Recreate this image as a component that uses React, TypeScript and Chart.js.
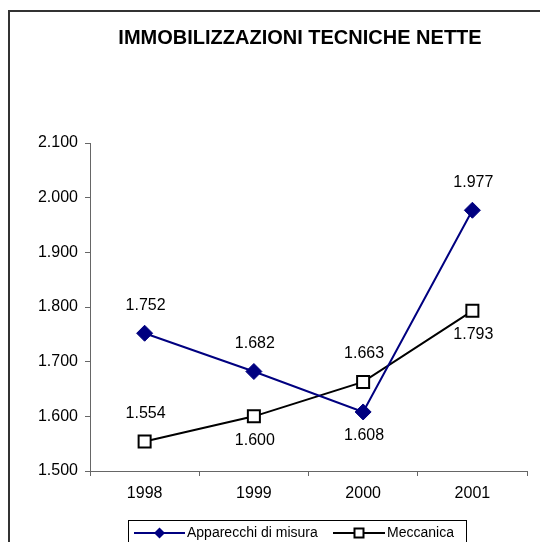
import React, { useEffect, useRef } from "react";
import { Chart, registerables } from "chart.js";

Chart.register(...registerables);

const categories = ["1998", "1999", "2000", "2001"];
const apparecchi = [1752, 1682, 1608, 1977];
const meccanica = [1554, 1600, 1663, 1793];
const seriesNames = ["Apparecchi di misura", "Meccanica"];
const chartTitle = "IMMOBILIZZAZIONI TECNICHE NETTE";
const yMin = 1500;
const yMax = 2100;
const yStep = 100;

const FONT = "'Liberation Sans', Arial, sans-serif";

function fmt(v: number): string {
  const n = Math.round(v);
  const th = Math.floor(n / 1000);
  const rest = String(n % 1000).padStart(3, "0");
  return th > 0 ? th + "." + rest : String(n);
}

const frameAndTitle = {
  id: "frameAndTitle",
  beforeDraw(chart: any) {
    const ctx = chart.ctx;
    ctx.save();
    ctx.fillStyle = "#fff";
    ctx.fillRect(0, 0, chart.width, chart.height);
    ctx.strokeStyle = "#333";
    ctx.lineWidth = 2;
    ctx.strokeRect(9, 11, chart.width + 20, chart.height + 20);
    ctx.fillStyle = "#000";
    ctx.font = "bold 20px " + FONT;
    ctx.textAlign = "center";
    ctx.textBaseline = "middle";
    ctx.fillText(chartTitle, 300, 38);
    ctx.restore();
  },
};

const labelPositions = [
  ["above", "above", "below", "above"],
  ["above", "below", "above", "below"],
];

const dataLabels = {
  id: "dataLabels",
  afterDatasetsDraw(chart: any) {
    const ctx = chart.ctx;
    ctx.save();
    ctx.fillStyle = "#000";
    ctx.font = "16px " + FONT;
    ctx.textAlign = "center";
    ctx.textBaseline = "middle";
    chart.data.datasets.forEach((ds: any, di: number) => {
      const meta = chart.getDatasetMeta(di);
      meta.data.forEach((pt: any, i: number) => {
        const pos = labelPositions[di][i];
        const dy = pos === "above" ? -28 : 24;
        ctx.fillText(fmt(ds.data[i]), pt.x + 1, pt.y + dy);
      });
    });
    ctx.restore();
  },
};

const customLegend = {
  id: "customLegend",
  afterDraw(chart: any) {
    const ctx = chart.ctx;
    ctx.save();
    ctx.strokeStyle = "#000";
    ctx.lineWidth = 1;
    ctx.strokeRect(128.5, 520.5, 338, 30);
    const items = [
      { x0: 134, x1: 185, tx: 187 },
      { x0: 333, x1: 385, tx: 387 },
    ];
    const y = 533;
    chart.data.datasets.forEach((ds: any, di: number) => {
      const it = items[di];
      ctx.strokeStyle = ds.borderColor;
      ctx.lineWidth = 2;
      ctx.beginPath();
      ctx.moveTo(it.x0, y);
      ctx.lineTo(it.x1, y);
      ctx.stroke();
      const cx = (it.x0 + it.x1) / 2;
      ctx.beginPath();
      if (ds.pointStyle === "rectRot") {
        const r = 5.5;
        ctx.moveTo(cx, y - r);
        ctx.lineTo(cx + r, y);
        ctx.lineTo(cx, y + r);
        ctx.lineTo(cx - r, y);
        ctx.closePath();
        ctx.fillStyle = ds.pointBackgroundColor;
        ctx.fill();
      } else {
        const h = 4.5;
        ctx.rect(cx - h, y - h, 2 * h, 2 * h);
        ctx.fillStyle = ds.pointBackgroundColor;
        ctx.fill();
        ctx.strokeStyle = ds.pointBorderColor;
        ctx.lineWidth = 2;
        ctx.stroke();
      }
      ctx.fillStyle = "#000";
      ctx.font = "14px " + FONT;
      ctx.textAlign = "left";
      ctx.textBaseline = "middle";
      ctx.fillText(ds.label, it.tx, y);
    });
    ctx.restore();
  },
};

export default function App() {
  const ref = useRef<HTMLCanvasElement | null>(null);
  useEffect(() => {
    if (!ref.current) return;
    const chart = new Chart(ref.current, {
      type: "line",
      data: {
        labels: categories,
        datasets: [
          {
            label: seriesNames[0],
            data: apparecchi,
            borderColor: "#000080",
            backgroundColor: "#000080",
            borderWidth: 2,
            pointStyle: "rectRot",
            pointRadius: 8,
            pointBackgroundColor: "#000080",
            pointBorderColor: "#000080",
            pointBorderWidth: 1,
            tension: 0,
          },
          {
            label: seriesNames[1],
            data: meccanica,
            borderColor: "#000000",
            backgroundColor: "#ffffff",
            borderWidth: 2,
            pointStyle: "rect",
            pointRadius: 8.5,
            pointBackgroundColor: "#ffffff",
            pointBorderColor: "#000000",
            pointBorderWidth: 2,
            tension: 0,
          },
        ],
      },
      options: {
        responsive: false,
        animation: false,
        devicePixelRatio: 1,
        layout: { padding: { left: 0, top: 143, right: 13, bottom: 31 } },
        plugins: {
          legend: { display: false },
          title: { display: false },
          tooltip: { enabled: false },
        },
        scales: {
          x: {
            type: "category",
            offset: true,
            grid: {
              offset: true,
              drawOnChartArea: false,
              drawTicks: true,
              tickLength: 5,
              color: "#666",
            },
            border: { display: true, color: "#666", width: 1 },
            ticks: {
              color: "#000",
              font: { family: FONT, size: 16 },
              padding: 8,
              maxRotation: 0,
            },
            afterFit(scale: any) {
              scale.height = 40;
            },
          },
          y: {
            min: yMin,
            max: yMax,
            grid: {
              drawOnChartArea: false,
              drawTicks: true,
              tickLength: 5,
              color: "#666",
            },
            border: { display: true, color: "#666", width: 1 },
            ticks: {
              stepSize: yStep,
              color: "#000",
              font: { family: FONT, size: 16 },
              padding: 7,
              callback: (v: any) => fmt(Number(v)),
            },
            afterFit(scale: any) {
              scale.width = 90;
            },
          },
        },
      },
      plugins: [frameAndTitle, dataLabels, customLegend],
    } as any);
    return () => chart.destroy();
  }, []);
  return (
    <div style={{ position: "absolute", left: 0, top: 0, width: 540, height: 542 }}>
      <canvas ref={ref} width={540} height={542} style={{ display: "block" }} />
    </div>
  );
}
